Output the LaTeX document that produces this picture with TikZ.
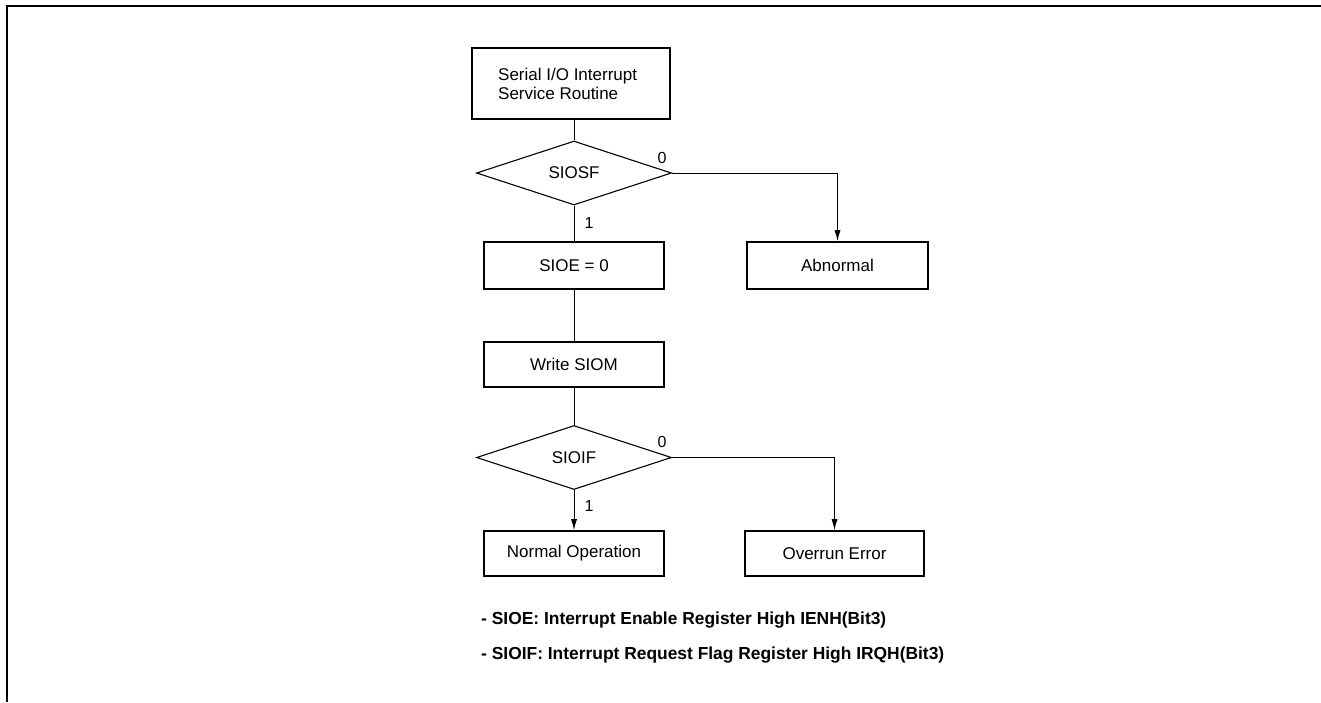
\documentclass[tikz,border=0pt]{standalone}
\usepackage{fontspec}
\setmainfont{Liberation Sans}
\usetikzlibrary{shapes.geometric,arrows.meta}
\begin{document}
\begin{tikzpicture}[x=1pt,y=-1pt,
  box/.style={draw,line width=1.6pt,inner sep=0pt,font=\fontsize{17}{20}\selectfont},
  dia/.style={draw,diamond,line width=1.1pt,inner sep=0pt,minimum width=195pt,minimum height=64pt,font=\fontsize{17}{20}\selectfont},
  conn/.style={line width=1pt},
  arr/.style={line width=1pt,-{Latex[length=11pt,width=6pt]}},
  lab/.style={font=\fontsize{16}{18}\selectfont,inner sep=0pt},
  note/.style={font=\fontsize{17.4}{20}\selectfont\bfseries,anchor=west,inner sep=0pt}]
\useasboundingbox (0,0) rectangle (1321,702);
\draw[line width=2pt] (7,702) -- (7,6) -- (1321,6);
\node[box,minimum width=198pt,minimum height=71pt] (isr) at (571,83.5) {};
\node[anchor=west,inner sep=0pt,align=left,font=\fontsize{17}{18.5}\selectfont] (isrt) at (498,84) {Serial I/O Interrupt\\Service Routine};
\node[dia] (d1) at (574,173) {SIOSF};
\node[box,minimum width=180pt,minimum height=47pt] (sioe) at (574,265.5) {SIOE = 0};
\node[box,minimum width=181pt,minimum height=47pt] (abn) at (837.5,265.5) {Abnormal};
\node[box,minimum width=180pt,minimum height=45pt] (wsiom) at (574,364.5) {Write SIOM};
\node[dia] (d2) at (574,457.5) {SIOIF};
\node[box,minimum width=180pt,minimum height=45pt] (norm) at (574,553.5) {Normal Operation};
\node[box,minimum width=179pt,minimum height=45pt] (ovr) at (834.5,553.5) {Overrun Error};
\draw[conn] (d1.north) -- (d1.north |- isr.south);
\draw[conn] (d1.south) -- (d1.south |- sioe.north);
\draw[arr] (d1.east) -| (abn.north);
\draw[conn] (sioe.south) -- (sioe.south |- wsiom.north);
\draw[conn] (d2.north) -- (d2.north |- wsiom.south);
\draw[arr] (d2.south) -- (d2.south |- norm.north);
\draw[arr] (d2.east) -| (ovr.north);
\node[lab] (l0a) at (662,158) {0};
\node[lab] (l1a) at (589,223) {1};
\node[lab] (l0b) at (662,442) {0};
\node[lab] (l1b) at (589,506) {1};
\node[note] (n1) at (481,620) {- SIOE: Interrupt Enable Register High IENH(Bit3)};
\node[note] (n2) at (481,655) {- SIOIF: Interrupt Request Flag Register High IRQH(Bit3)};
\end{tikzpicture}
\end{document}
